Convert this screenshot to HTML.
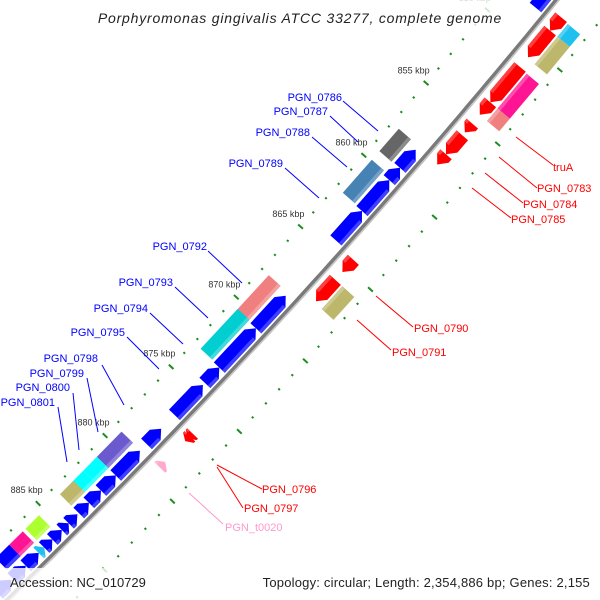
<!DOCTYPE html>
<html>
<head>
<meta charset="utf-8">
<style>
  html,body{margin:0;padding:0;background:#fff;width:600px;height:600px;overflow:hidden;}
  #wrap{position:relative;width:600px;height:600px;overflow:hidden;background:#fff;}
  svg{display:block;overflow:hidden;}
  .lbl{font-family:"Liberation Sans",sans-serif;font-size:11px;}
  .tick-lbl{font-family:"Liberation Sans",sans-serif;font-size:9px;fill:#333;}
</style>
</head>
<body>
<div id="wrap">
<svg id="map" width="600" height="600" viewBox="0 0 600 600" xmlns="http://www.w3.org/2000/svg">
  <g id="ticks"></g>
  <g id="backbone"></g>
  <g id="features"></g>
  <g id="leaders">
    <g stroke="#0000ff" stroke-width="1">
      <line x1="343" y1="101" x2="378" y2="131"/>
      <line x1="330" y1="116" x2="358" y2="142"/>
      <line x1="312" y1="137" x2="347" y2="167"/>
      <line x1="285" y1="168" x2="319" y2="198"/>
      <line x1="208" y1="251" x2="242" y2="283"/>
      <line x1="175" y1="287" x2="208" y2="318"/>
      <line x1="150" y1="313" x2="183" y2="344"/>
      <line x1="127" y1="337" x2="159" y2="369"/>
      <line x1="102" y1="365" x2="124" y2="405"/>
      <line x1="87" y1="378" x2="98" y2="432"/>
      <line x1="73" y1="393" x2="79" y2="450"/>
      <line x1="58" y1="407" x2="67" y2="462"/>
    </g>
    <g stroke="#ff0000" stroke-width="1">
      <line x1="516" y1="137" x2="553" y2="165"/>
      <line x1="499" y1="157" x2="537" y2="188"/>
      <line x1="485" y1="173" x2="523" y2="203"/>
      <line x1="472" y1="188" x2="511" y2="218"/>
      <line x1="376" y1="296" x2="413" y2="327"/>
      <line x1="357" y1="320" x2="391" y2="350"/>
      <line x1="217" y1="465" x2="262" y2="489"/>
      <line x1="217" y1="467" x2="243" y2="508"/>
    </g>
    <line x1="189" y1="493" x2="223" y2="524" stroke="#ff99cc" stroke-width="1"/>
  </g>
  <g id="labels">
    <g fill="#0000ff" class="lbl" text-anchor="end">
      <text x="342" y="101">PGN_0786</text>
      <text x="328" y="115">PGN_0787</text>
      <text x="310" y="136">PGN_0788</text>
      <text x="283" y="167">PGN_0789</text>
      <text x="207" y="250">PGN_0792</text>
      <text x="173" y="286">PGN_0793</text>
      <text x="148" y="312">PGN_0794</text>
      <text x="125" y="336">PGN_0795</text>
      <text x="98" y="362">PGN_0798</text>
      <text x="84" y="377">PGN_0799</text>
      <text x="70" y="391">PGN_0800</text>
      <text x="55" y="406">PGN_0801</text>
    </g>
    <g fill="#ff0000" class="lbl">
      <text x="553" y="171">truA</text>
      <text x="537" y="192">PGN_0783</text>
      <text x="523" y="208">PGN_0784</text>
      <text x="511" y="223">PGN_0785</text>
      <text x="414" y="332">PGN_0790</text>
      <text x="392" y="356">PGN_0791</text>
      <text x="262" y="493">PGN_0796</text>
      <text x="244" y="512">PGN_0797</text>
    </g>
    <text x="225" y="531" fill="#ff99cc" class="lbl">PGN_t0020</text>
  </g>
  <rect x="90" y="0" width="420" height="28" fill="#fff" fill-opacity="0.8"/>
  <text x="300" y="23" text-anchor="middle" font-family="Liberation Sans, sans-serif" font-size="14" font-style="italic" letter-spacing="0.8" fill="#222">Porphyromonas gingivalis ATCC 33277, complete genome</text>
  <rect x="0" y="568" width="600" height="32" fill="#fff" fill-opacity="0.8"/>
  <text x="10" y="587" font-family="Liberation Sans, sans-serif" font-size="13" fill="#222">Accession: NC_010729</text>
  <text x="590" y="587" text-anchor="end" font-family="Liberation Sans, sans-serif" font-size="13" letter-spacing="0.2" fill="#222">Topology: circular; Length: 2,354,886 bp; Genes: 2,155</text>
</svg>
</div>
<script>
// ---- data (kbp positions) ----
const featStart = [845.0,858.0,859.25,860.1,862.25,868.2,870.5,873.3,874.55,877.7,879.3,881.1,882.2,883.1,883.95,884.6,885.1,885.8,886.8,887.75,888.8,
                   857.75,859.9,868.0,870.4,879.25,881.1,882.1,882.85,885.4,886.6,887.6,
                   847.85,848.75,851.2,853.6,855.05,855.85,857.15,864.45,865.85,876.75,876.95,878.8,886.4,
                   847.9,848.75,851.25,853.6,865.85];
const featEnd   = [848.3,859.25,860.1,862.25,864.3,870.5,873.3,874.4,876.7,878.8,881.1,882.2,883.1,883.85,884.6,885.1,885.8,886.4,887.75,888.7,889.8,
                   859.3,862.2,870.45,873.25,881.1,882.1,883.05,883.85,886.4,887.6,888.6,
                   848.75,850.55,853.6,854.45,855.65,857.15,857.85,865.3,867.35,877.1,877.3,879.2,886.8,
                   848.75,850.6,853.6,854.45,867.45];
const featRing  = ['f1','f1','f1','f1','f1','f1','f1','f1','f1','f1','f1','f1','f1','f1','f1','f1','f1','f1','f1','f1','f1',
                   'f2','f2','f2','f2','f2','f2','f2','f2','f2','f2','f2',
                   'r1','r1','r1','r1','r1','r1','r1','r1','r1','r1','r1','r1','f1',
                   'r2','r2','r2','r2','r2'];
const featCat   = ['cds','cds','cds','cds','cds','cds','cds','cds','cds','cds','cds','cds','cds','cds','cds','cds','cds','cds','cds','cds','cds',
                   'cogO','cogP','cogJ','cogC','cogM','cogT','cogT','cogS','cogE','cogL','cds',
                   'rcds','rcds','rcds','rcds','rcds','rcds','rcds','rcds','rcds','rcds','rcds','trna','cogU',
                   'cogU','cogS','cogL','cogJ','cogS'];
const featShape = ['arrowL','arrowL','arrowL','arrowL','arrowL','arrowL','arrowL','arrowL','arrowL','arrowL','arrowL','arrowL','arrowL','arrowL','arrowL','arrowL','arrowL','arrowL','arrowL','arrowL','arrowL',
                   'box','box','box','box','box','box','box','box','box','box','box',
                   'arrowR','arrowR','arrowR','arrowR','arrowR','arrowR','arrowR','arrowR','arrowR','arrowR','arrowR','arrowL','arrowL',
                   'box','box','box','box','box'];
const tickStart = 840, tickEnd = 895;
const labelTicks = [845,850,855,860,865,870,875,880,885,890];

// ---- geometry ----
const CX=-4993, CY=-4529, R=7160;
const COLORS={cds:'#0000ff',rcds:'#ff0000',trna:'#ffaacc',cogO:'#666666',cogP:'#4682b4',cogJ:'#f08080',cogC:'#00ced1',
  cogM:'#6a5acd',cogT:'#00ffff',cogS:'#bdb76b',cogE:'#adff2f',cogL:'#ff1493',cogU:'#1ec0f0'};
const RINGS={f1:[1,16],f2:[19,35],r1:[-25,-10],r2:[-43,-27]};
function pt(k,off){
  const p=(40.40+(k-855)*0.1536)*Math.PI/180, r=R-off;
  return [CX+r*Math.cos(p), CY+r*Math.sin(p)];
}
function poly(list){return list.map(q=>{const p=pt(q[0],q[1]);return p[0].toFixed(1)+','+p[1].toFixed(1);}).join(' ');}
const NS='http://www.w3.org/2000/svg';
function lighten(hex,a){const n=parseInt(hex.slice(1),16);let r=n>>16,g=(n>>8)&255,b=n&255;
  r=Math.round(r+(255-r)*a);g=Math.round(g+(255-g)*a);b=Math.round(b+(255-b)*a);return 'rgb('+r+','+g+','+b+')';}

// ticks
const tg=document.getElementById('ticks');
[44,-50].forEach(function(off){
  for(let k=tickStart;k<=tickEnd;k++){
    const major=(k%5===0);
    const L=major?3.2:1.1;
    const a=pt(k,off-L), b=pt(k,off+L);
    const ln=document.createElementNS(NS,'line');
    ln.setAttribute('x1',a[0]);ln.setAttribute('y1',a[1]);ln.setAttribute('x2',b[0]);ln.setAttribute('y2',b[1]);
    ln.setAttribute('stroke','#1e8c1e');ln.setAttribute('stroke-width','2');
    
    
    tg.appendChild(ln);
  }
});
labelTicks.forEach(function(k){
  const p=pt(k,63);
  const t=document.createElementNS(NS,'text');
  t.setAttribute('x',p[0]+2);t.setAttribute('y',p[1]+3);t.setAttribute('text-anchor','middle');
  t.setAttribute('class','tick-lbl');
  t.textContent=k+' kbp';
  
  
  tg.appendChild(t);
});

// backbone
const bg=document.getElementById('backbone');
[[-2.5,'#7a7a7a',3.5],[-5,'#c4c4c4',1.6]].forEach(function(s){
  let d='';
  for(let k=tickStart;k<=tickEnd;k+=0.5){const p=pt(k,s[0]);d+=(d?'L':'M')+p[0].toFixed(1)+' '+p[1].toFixed(1);}
  const path=document.createElementNS(NS,'path');
  path.setAttribute('d',d);path.setAttribute('fill','none');path.setAttribute('stroke',s[1]);path.setAttribute('stroke-width',s[2]);
  
  
  bg.appendChild(path);
});

// features
const fg=document.getElementById('features');
for(let i=0;i<featStart.length;i++){
  const a=featStart[i], b=featEnd[i], rg=RINGS[featRing[i]], col=COLORS[featCat[i]];
  const lo=rg[0], hi=rg[1], mid=(lo+hi)/2, len=b-a;
  const h=Math.min(0.45,len*0.7);
  let pts, band;
  const inner = (featRing[i][0]==='f') ? lo : hi;
  const bandOff = (featRing[i][0]==='f') ? lo+3.5 : hi-3.5;
  if(featShape[i]==='arrowL'){
    pts=[[a,mid],[a+h,hi],[b,hi],[b,lo],[a+h,lo]];
    band=[[a+h,inner],[b,inner],[b,bandOff],[a+h,bandOff]];
  } else if(featShape[i]==='arrowR'){
    pts=[[a,hi],[b-h,hi],[b,mid],[b-h,lo],[a,lo]];
    band=[[a,inner],[b-h,inner],[b-h,bandOff],[a,bandOff]];
  } else {
    pts=[[a,lo],[b,lo],[b,hi],[a,hi]];
    band=[[a,inner],[b,inner],[b,bandOff],[a,bandOff]];
  }
  const el=document.createElementNS(NS,'polygon');
  el.setAttribute('points',poly(pts));
  el.setAttribute('fill',col);
  
  
  fg.appendChild(el);
  const bd=document.createElementNS(NS,'polygon');
  bd.setAttribute('points',poly(band));
  bd.setAttribute('fill',lighten(col,0.25));
  
  
  fg.appendChild(bd);
}
</script>
</body>
</html>
